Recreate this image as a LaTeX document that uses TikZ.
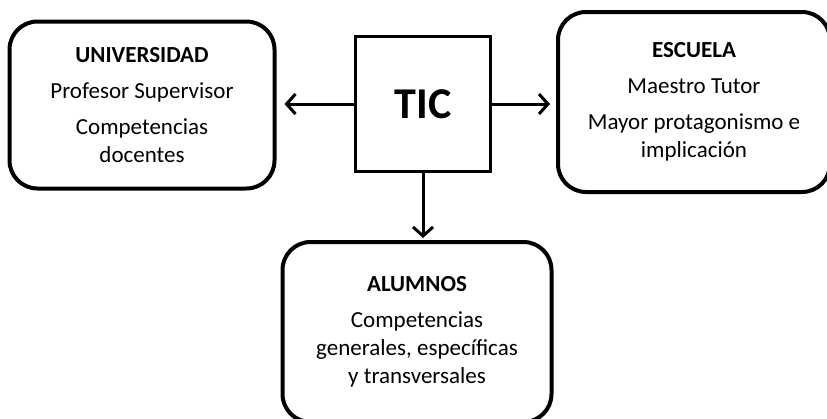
\documentclass[tikz,border=0pt]{standalone}
\usepackage{fontspec}
\setmainfont{Carlito}
\usetikzlibrary{arrows.meta}
\begin{document}
\begin{tikzpicture}[
					x = 1pt, y = -1pt,
					caja/.style = {draw, line width = 4pt, rounded corners = 28pt, align = center, inner sep = 0pt, font = \fontsize{23}{28}\selectfont},
					flecha/.style = {-{Straight Barb[length=9pt,width=20pt,line width=3pt]}, line width = 3pt}]

					\useasboundingbox (0,0) rectangle (827,418);

					\node[draw, line width = 3.5pt, minimum size = 135pt, font = \fontsize{44}{50}\selectfont\bfseries] (tic) at (423,104) {TIC};

					\node[caja, minimum width = 265pt, minimum height = 167pt] (univ) at (142,105) {\textbf{UNIVERSIDAD}\\[8pt]Profesor Supervisor\\[8pt]Competencias\\docentes};
					\node[caja, minimum width = 272pt, minimum height = 180pt] (escuela) at (694,102) {\textbf{ESCUELA}\\[8pt]Maestro Tutor\\[8pt]Mayor protagonismo e\\implicación};
					\node[caja, minimum width = 269pt, minimum height = 180pt] (alumnos) at (417,332) {\textbf{ALUMNOS}\\[8pt]Competencias\\generales, específicas\\y transversales};

					\draw[flecha, shorten >= 8pt] (tic.west) -- (tic.west -| univ.east);
					\draw[flecha, shorten >= 6pt] (tic.east) -- (tic.east -| escuela.west);
					\draw[flecha, shorten >= 2pt] (tic.south) -- (tic.south |- alumnos.north);

				\end{tikzpicture}
\end{document}
